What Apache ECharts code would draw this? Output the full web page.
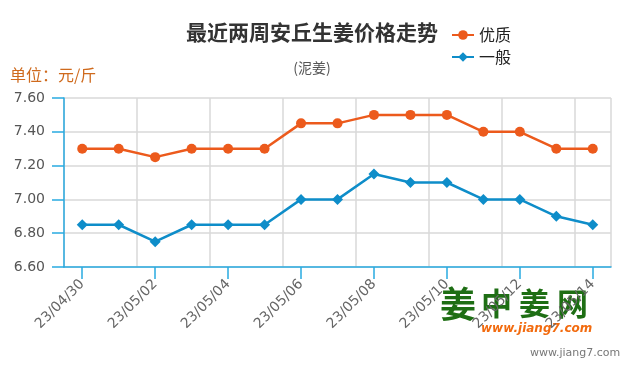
<!DOCTYPE html>
<html>
<head>
<meta charset="utf-8">
<script src="https://cdn.jsdelivr.net/npm/echarts@6/dist/echarts.min.js"></script>
<style>html,body{margin:0;padding:0;background:#fff;}#c{width:635px;height:375px;}</style>
</head>
<body>
<div id="c"></div>
<script>
var categories = ['23/04/30','23/05/01','23/05/02','23/05/03','23/05/04','23/05/05','23/05/06','23/05/07','23/05/08','23/05/09','23/05/10','23/05/11','23/05/12','23/05/13','23/05/14'];
var premium = [7.30,7.30,7.25,7.30,7.30,7.30,7.45,7.45,7.50,7.50,7.50,7.40,7.40,7.30,7.30];
var ordinary = [6.85,6.85,6.75,6.85,6.85,6.85,7.00,7.00,7.15,7.10,7.10,7.00,7.00,6.90,6.85];
var seriesNames = ['优质','一般'];
var titleText = '最近两周安丘生姜价格走势';
var subtitleText = '(泥姜)';
var unitText = '单位：元/斤';

var font = '"Noto Sans CJK SC","Open Sans",sans-serif';
var axisBlue = '#29aae1';
var chart = echarts.init(document.getElementById('c'));
chart.setOption({
  animation: false,
  backgroundColor: '#fff',
  title: {
    text: titleText, subtext: subtitleText, left: 307, textAlign: 'center', top: 17, itemGap: 18,
    textStyle: {fontSize: 21, fontWeight: 'bold', color: '#333', fontFamily: font},
    subtextStyle: {fontSize: 14, color: '#555', fontFamily: font}
  },
  legend: {
    orient: 'vertical', left: 446, top: 22, itemGap: 6, itemWidth: 22, itemHeight: 12,
    data: seriesNames,
    textStyle: {fontSize: 16, color: '#222', fontFamily: font}
  },
  graphic: [
    {type: 'text', left: 10, top: 67, style: {text: unitText, fill: '#cf6a1d', font: '16px ' + font}},
    {type: 'text', left: 481, top: 288, style: {text: '中 姜 网', fill: '#1e6e14', font: 'bold 31px ' + font}},
    {type: 'text', left: 440, top: 286, style: {text: '姜', fill: '#1e6e14', font: 'bold 36px ' + font}},
    {type: 'text', left: 481, top: 323, style: {text: 'www.jiang7.com', fill: '#f26b0f', font: 'italic bold 12px Verdana, "DejaVu Sans", sans-serif'}},
    {type: 'text', left: 530, top: 348, style: {text: 'www.jiang7.com', fill: '#777', font: '11px "DejaVu Sans", sans-serif'}}
  ],
  grid: {left: 64, right: 24, top: 98, bottom: 108},
  xAxis: {
    type: 'category', data: categories, boundaryGap: true,
    axisLine: {lineStyle: {color: axisBlue, width: 1.5}},
    axisTick: {show: true, interval: 1, length: 12, lineStyle: {color: axisBlue, width: 1.5}, alignWithLabel: true},
    axisLabel: {interval: 1, rotate: 45, margin: 15, fontSize: 14, color: '#666', fontFamily: '"DejaVu Sans",sans-serif'},
    splitLine: {show: true, interval: 1, lineStyle: {color: '#d9d9d9', width: 1.5}}
  },
  yAxis: {
    type: 'value', min: 6.6, max: 7.6, interval: 0.2,
    axisLine: {show: true, lineStyle: {color: axisBlue, width: 1.5}},
    axisTick: {show: true, length: 12, lineStyle: {color: axisBlue, width: 1.5}},
    axisLabel: {margin: 19, fontSize: 14, color: '#555', fontFamily: '"DejaVu Sans",sans-serif', formatter: function (v) { return v.toFixed(2); }},
    splitLine: {show: true, lineStyle: {color: '#d9d9d9', width: 1.5}}
  },
  series: [
    {name: seriesNames[0], type: 'line', data: premium, symbol: 'circle', symbolSize: 10,
     itemStyle: {color: '#ec5a1c'}, lineStyle: {width: 2.5, color: '#ec5a1c'}},
    {name: seriesNames[1], type: 'line', data: ordinary, symbol: 'diamond', symbolSize: 11,
     itemStyle: {color: '#0e8dc9'}, lineStyle: {width: 2.5, color: '#0e8dc9'}}
  ]
});
</script>
</body>
</html>
